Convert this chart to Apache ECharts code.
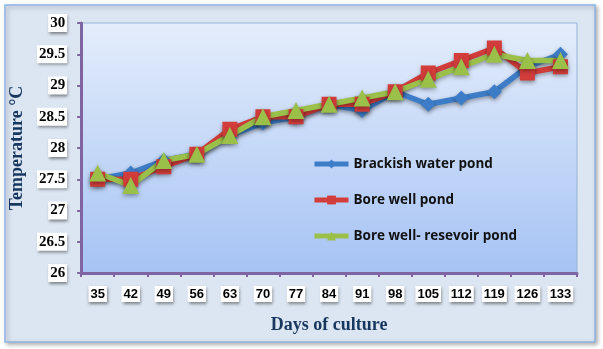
<!DOCTYPE html>
<html><head><meta charset="utf-8">
<script src="https://cdn.jsdelivr.net/npm/echarts@6/dist/echarts.min.js"></script>
<style>html,body{margin:0;padding:0;background:#fff}#c{width:603px;height:349px}</style>
</head><body><div id="c"></div>
<script>
const days = ['35','42','49','56','63','70','77','84','91','98','105','112','119','126','133'];
const brackish = [27.5,27.6,27.8,27.9,28.2,28.4,28.5,28.7,28.6,28.9,28.7,28.8,28.9,29.3,29.5];
const borewell = [27.5,27.5,27.7,27.9,28.3,28.5,28.5,28.7,28.7,28.9,29.2,29.4,29.6,29.2,29.3];
const reservoir = [27.6,27.4,27.8,27.9,28.2,28.5,28.6,28.7,28.8,28.9,29.1,29.3,29.5,29.4,29.4];
const names = ['Brackish water pond','Bore well pond','Bore well- resevoir pond'];

const chart = echarts.init(document.getElementById('c'));
const lbl = {
  backgroundColor:'#ffffff', padding:[2,2,1,2], shadowBlur:3, shadowColor:'rgba(0,0,0,0.45)', shadowOffsetX:1, shadowOffsetY:2,
  fontWeight:'bold', color:'#000'
};
function mk(name, data, color, symbol, size){
  return {name, type:'line', data, symbol, symbolSize:size, z:3,
    lineStyle:{color, width:5.5, shadowBlur:4, shadowColor:'rgba(0,0,0,0.35)', shadowOffsetY:2},
    itemStyle:{color, shadowBlur:4, shadowColor:'rgba(0,0,0,0.35)', shadowOffsetY:2}};
}
chart.setOption({
  animation:false,
  graphic:[{type:'rect', shape:{x:5,y:5,width:590,height:337}, z:-10,
    style:{fill:'#dce6f2', stroke:'#8eb4e3', lineWidth:1.5, shadowBlur:4, shadowColor:'rgba(0,0,0,0.3)', shadowOffsetX:2, shadowOffsetY:2}}],
  grid:{left:70, top:23, right:26, bottom:76, show:true, borderColor:'#95b3d7', borderWidth:1,
    backgroundColor:{type:'linear', x:0,y:0,x2:0,y2:1, colorStops:[{offset:0,color:'#e4edfb'},{offset:1,color:'#a6c3f4'}]}},
  legend:{orient:'vertical', left:312, top:157, padding:0, itemWidth:34, itemHeight:11, itemGap:22,
    lineStyle:{width:5},
    textStyle:{fontFamily:'Open Sans', fontWeight:'bold', fontSize:13.5, color:'#111'},
    data:names},
  xAxis:{type:'category', data:days, boundaryGap:true,
    name:'Days of culture', nameLocation:'middle', nameGap:43,
    nameTextStyle:{fontFamily:'Liberation Serif', fontWeight:'bold', fontSize:18, color:'#17375e'},
    axisLine:{lineStyle:{color:'#8064a2', width:3}},
    axisTick:{show:true, length:4, lineStyle:{color:'#8064a2', width:2}},
    axisLabel:Object.assign({}, lbl, {fontFamily:'Liberation Sans', fontSize:13, margin:13})},
  yAxis:{type:'value', min:26, max:30, interval:0.5,
    name:'Temperature °C', nameLocation:'middle', nameGap:45,
    nameTextStyle:{fontFamily:'Liberation Serif', fontWeight:'bold', fontSize:18, color:'#17375e'},
    axisLine:{show:true, lineStyle:{color:'#8064a2', width:3}},
    axisTick:{show:true, length:4, lineStyle:{color:'#8064a2', width:2}},
    splitLine:{show:false},
    axisLabel:Object.assign({}, lbl, {fontFamily:'Liberation Serif', fontSize:15, margin:14})},
  series:[
    mk(names[0], brackish, '#3d7cc7', 'diamond', 15),
    mk(names[1], borewell, '#d23c3a', 'rect', 15),
    mk(names[2], reservoir, '#9bc04a', 'triangle', 17)
  ]
});
</script></body></html>
